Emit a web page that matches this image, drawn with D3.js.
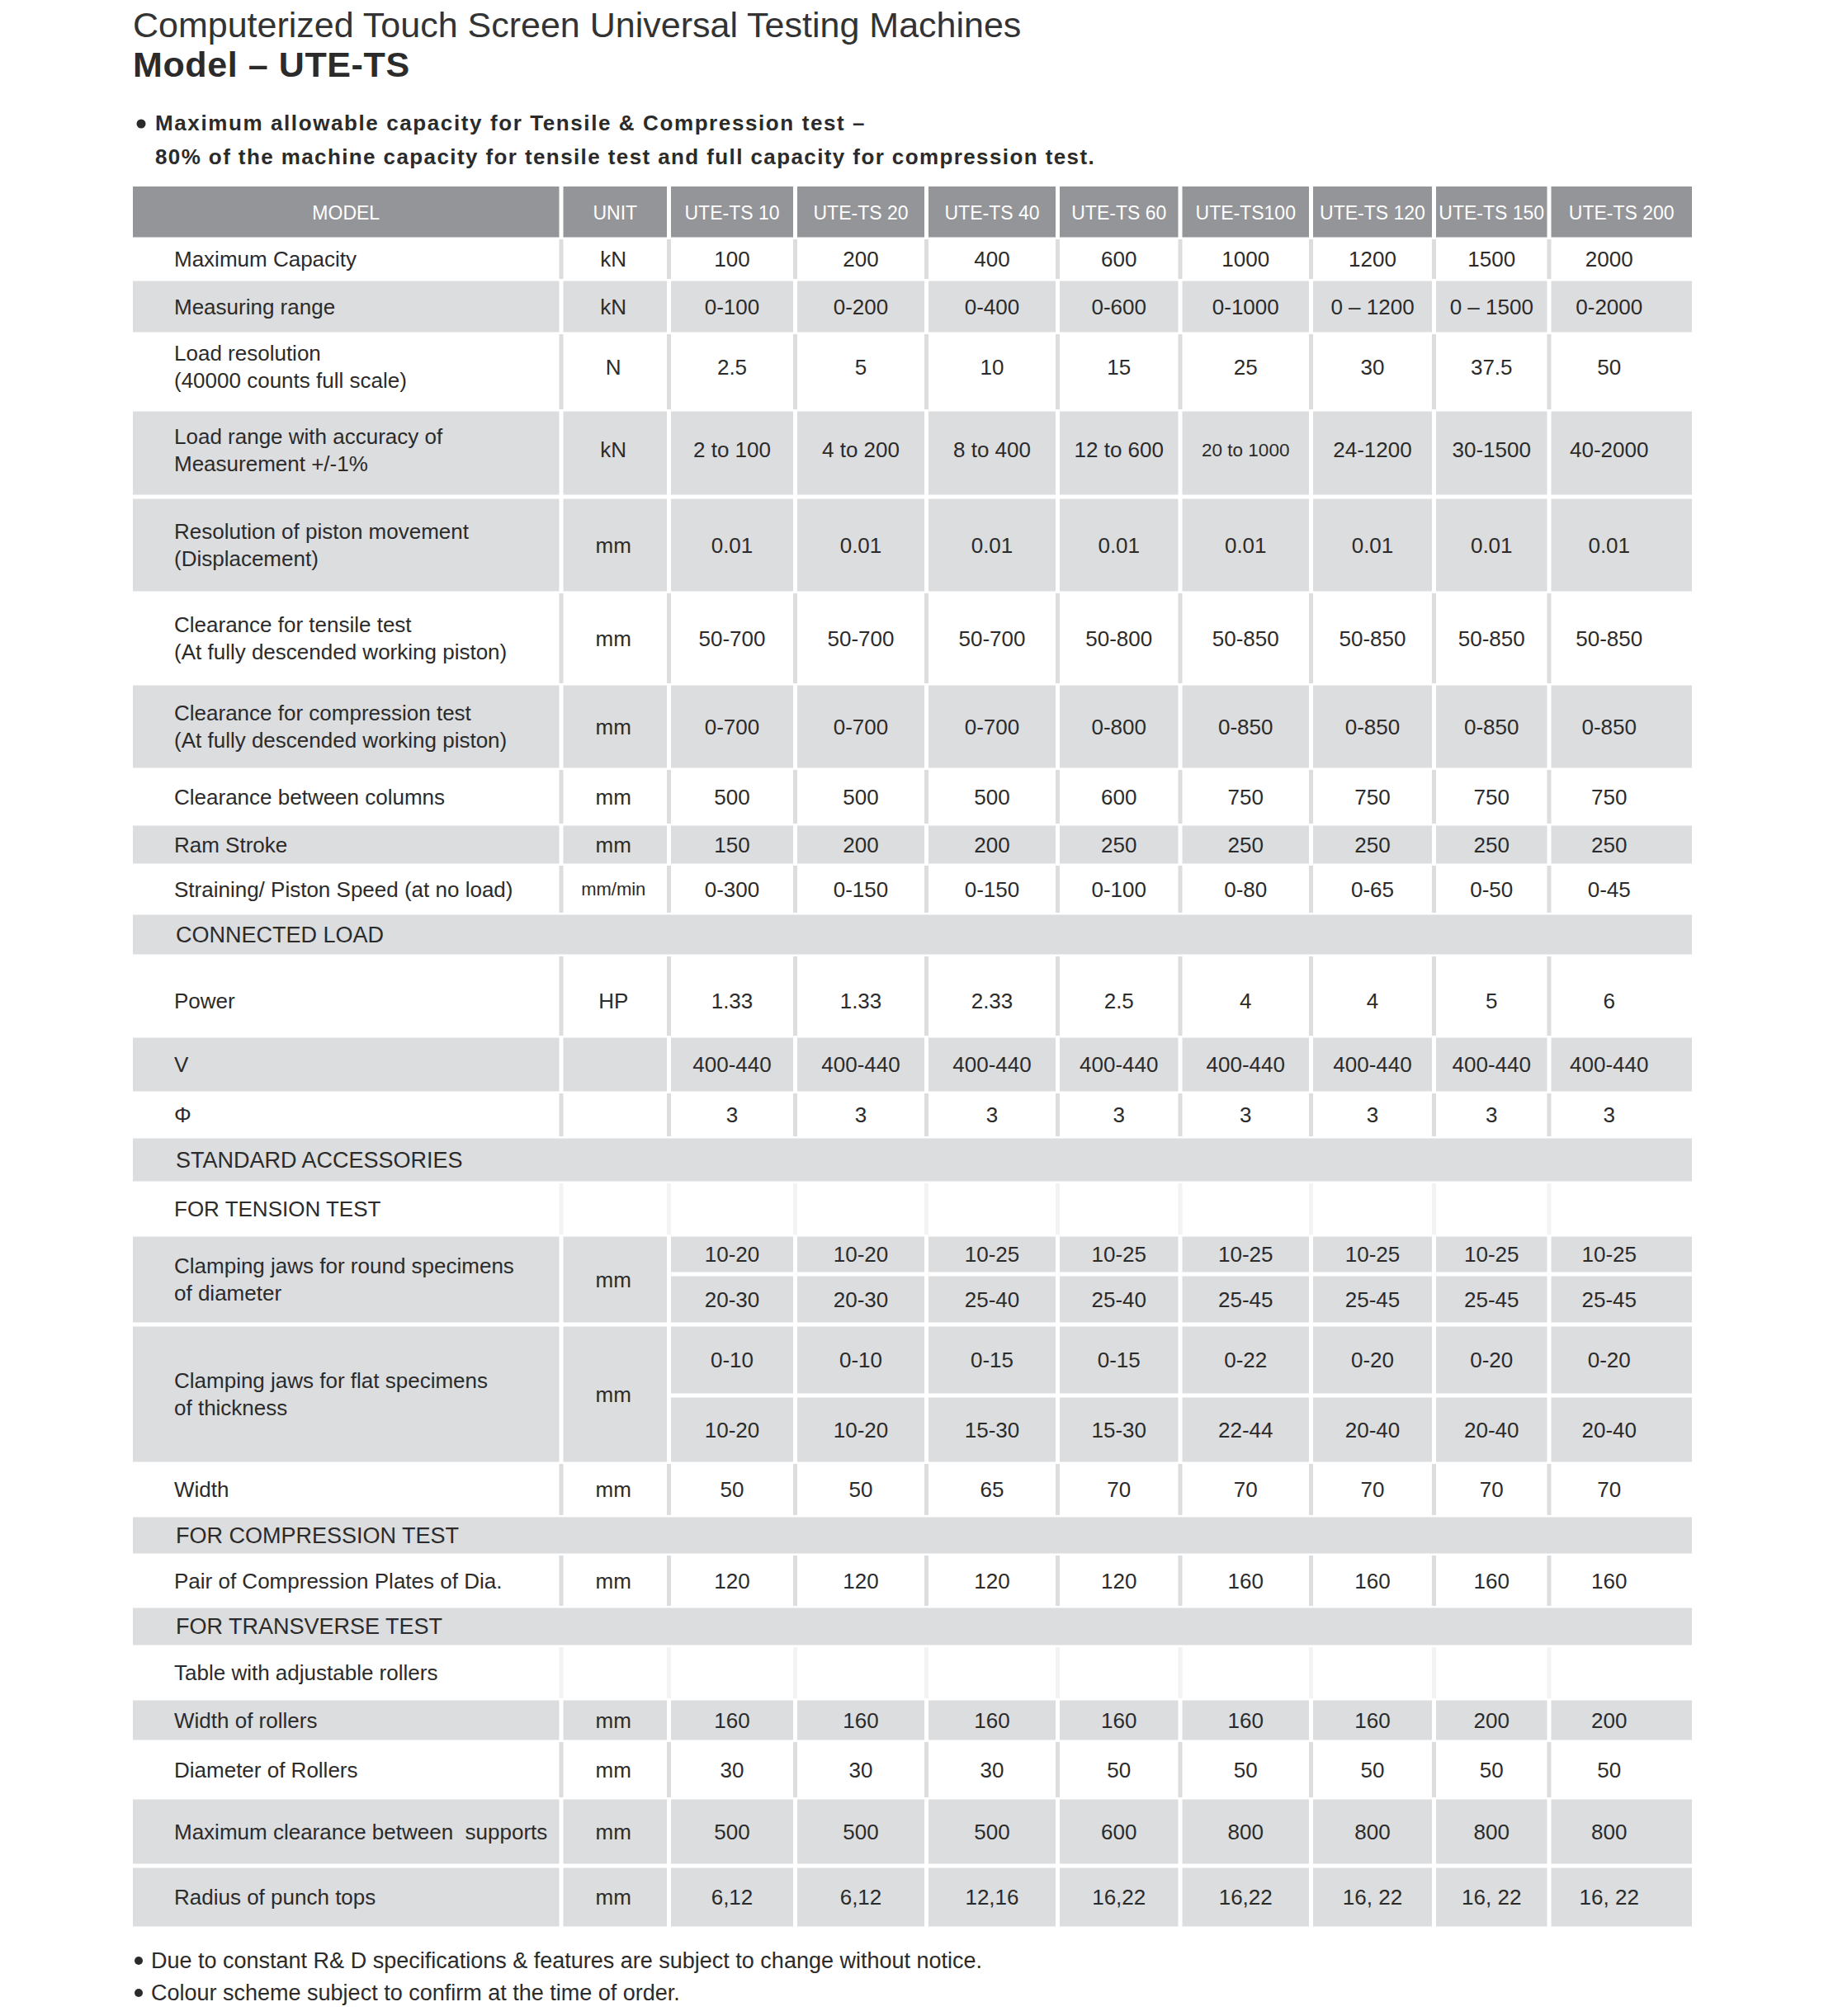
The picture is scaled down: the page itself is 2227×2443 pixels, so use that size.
<!DOCTYPE html>
<html>
<head>
<meta charset="utf-8">
<script src="https://cdn.jsdelivr.net/npm/d3@7"></script>
<style>
  body { margin: 0; background: #fff; }
  text { font-family: 'Liberation Sans', Arial, sans-serif; fill: #2b2b2b; white-space: pre; }
</style>
</head>
<body>
<div id="chart"></div>
<script>
/* globals d3 */

let title = 'Computerized Touch Screen Universal Testing Machines'
let subtitle = 'Model – UTE-TS'
let introLines = [
  'Maximum allowable capacity for Tensile & Compression test –',
  '80% of the machine capacity for tensile test and full capacity for compression test.'
]
let footNotes = [
  'Due to constant R& D specifications & features are subject to change without notice.',
  'Colour scheme subject to confirm at the time of order.'
]

let models = ['UTE-TS 10', 'UTE-TS 20', 'UTE-TS 40', 'UTE-TS 60', 'UTE-TS100', 'UTE-TS 120', 'UTE-TS 150', 'UTE-TS 200']

let maxCapacity = ['100', '200', '400', '600', '1000', '1200', '1500', '2000']
let measuringRange = ['0-100', '0-200', '0-400', '0-600', '0-1000', '0 – 1200', '0 – 1500', '0-2000']
let loadResolution = ['2.5', '5', '10', '15', '25', '30', '37.5', '50']
let loadRange = ['2 to 100', '4 to 200', '8 to 400', '12 to 600', '20 to 1000', '24-1200', '30-1500', '40-2000']
let pistonResolution = ['0.01', '0.01', '0.01', '0.01', '0.01', '0.01', '0.01', '0.01']
let tensileClearance = ['50-700', '50-700', '50-700', '50-800', '50-850', '50-850', '50-850', '50-850']
let compressionClearance = ['0-700', '0-700', '0-700', '0-800', '0-850', '0-850', '0-850', '0-850']
let columnClearance = ['500', '500', '500', '600', '750', '750', '750', '750']
let ramStroke = ['150', '200', '200', '250', '250', '250', '250', '250']
let pistonSpeed = ['0-300', '0-150', '0-150', '0-100', '0-80', '0-65', '0-50', '0-45']
let power = ['1.33', '1.33', '2.33', '2.5', '4', '4', '5', '6']
let voltage = ['400-440', '400-440', '400-440', '400-440', '400-440', '400-440', '400-440', '400-440']
let phase = ['3', '3', '3', '3', '3', '3', '3', '3']
let roundJawsA = ['10-20', '10-20', '10-25', '10-25', '10-25', '10-25', '10-25', '10-25']
let roundJawsB = ['20-30', '20-30', '25-40', '25-40', '25-45', '25-45', '25-45', '25-45']
let flatJawsA = ['0-10', '0-10', '0-15', '0-15', '0-22', '0-20', '0-20', '0-20']
let flatJawsB = ['10-20', '10-20', '15-30', '15-30', '22-44', '20-40', '20-40', '20-40']
let jawWidth = ['50', '50', '65', '70', '70', '70', '70', '70']
let plateDia = ['120', '120', '120', '120', '160', '160', '160', '160']
let rollerWidth = ['160', '160', '160', '160', '160', '160', '200', '200']
let rollerDia = ['30', '30', '30', '50', '50', '50', '50', '50']
let supportClearance = ['500', '500', '500', '600', '800', '800', '800', '800']
let punchRadius = ['6,12', '6,12', '12,16', '16,22', '16,22', '16, 22', '16, 22', '16, 22']

let rowLabels = [
  'Maximum Capacity',
  'Measuring range',
  'Load resolution\n(40000 counts full scale)',
  'Load range with accuracy of\nMeasurement +/-1%',
  'Resolution of piston movement\n(Displacement)',
  'Clearance for tensile test\n(At fully descended working piston)',
  'Clearance for compression test\n(At fully descended working piston)',
  'Clearance between columns',
  'Ram Stroke',
  'Straining/ Piston Speed (at no load)',
  'CONNECTED LOAD',
  'Power',
  'V',
  'Φ',
  'STANDARD ACCESSORIES',
  'FOR TENSION TEST',
  'Clamping jaws for round specimens\nof diameter',
  'Clamping jaws for flat specimens\nof thickness',
  'Width',
  'FOR COMPRESSION TEST',
  'Pair of Compression Plates of Dia.',
  'FOR TRANSVERSE TEST',
  'Table with adjustable rollers',
  'Width of rollers',
  'Diameter of Rollers',
  'Maximum clearance between  supports',
  'Radius of punch tops'
]
let rowUnits = ['kN', 'kN', 'N', 'kN', 'mm', 'mm', 'mm', 'mm', 'mm', 'mm/min', '', 'HP', '', '', '', '',
  'mm', 'mm', 'mm', '', 'mm', '', '', 'mm', 'mm', 'mm', 'mm']
let rowValues = [maxCapacity, measuringRange, loadResolution, loadRange, pistonResolution, tensileClearance,
  compressionClearance, columnClearance, ramStroke, pistonSpeed, null, power, voltage, phase, null, null,
  [roundJawsA, roundJawsB], [flatJawsA, flatJawsB], jawWidth, null, plateDia, null, null,
  rollerWidth, rollerDia, supportClearance, punchRadius]

// layout
const W = 2227
const H = 2443
const GAP = 5
const HEAD_FILL = '#949598'
const CELL_FILL = '#dcdddf'
const FAINT = '#f3f3f4'

let colKeys = ['MODEL', 'UNIT'].concat(models)
let colWidths = [521.5, 130.5, 153, 159, 159, 148.5, 158.5, 149, 139.5, 175.5]
let colEdges = [158.5].concat(Array.from(d3.cumsum(colWidths), (d) => 158.5 + d))
let x = d3.scaleOrdinal().domain(colKeys).range(colEdges.slice(0, -1))
let w = d3.scaleOrdinal().domain(colKeys).range(colWidths)

let rowHeights = [64, 48, 67, 91, 106, 117, 109, 105, 65, 51, 57, 53, 96, 70, 52, 57, 62, 109, 169, 62, 49, 61, 50, 62, 53, 67, 83, 76]
let rowIds = d3.range(rowHeights.length)
let y = d3.scaleOrdinal().domain(rowIds).range([226].concat(Array.from(d3.cumsum(rowHeights), (d) => 226 + d)))
let h = d3.scaleOrdinal().domain(rowIds).range(rowHeights)

let sectionRows = [11, 15, 20, 22]
let noteRows = [16, 23]
let grayRows = [2, 4, 5, 7, 9, 13, 17, 18, 24, 26, 27]
let splitAt = { 17: 48, 18: 86 }
let smallText = ['mm/min', '20 to 1000']
// text in a few rows sits a little off the row centre
let textNudge = { 3: -6, 4: -4, 12: 6 }

function main () {
  let svg = d3.select('#chart').append('svg')
      .attr('width', W)
      .attr('height', H)
  svg.append('rect').attr('width', W).attr('height', H).attr('fill', '#fff')

  drawTitle(svg)
  drawTable(svg)
  drawNotes(svg)
}

function drawTitle (svg) {
  svg.append('text')
      .attr('x', 161)
      .attr('y', 45)
      .style('font-size', '43px')
      .style('fill', '#333')
      .text(title)

  svg.append('text')
      .attr('x', 161)
      .attr('y', 93)
      .style('font-size', '43px')
      .style('font-weight', 'bold')
      .style('letter-spacing', '0.6px')
      .text(subtitle)

  svg.append('circle').attr('cx', 171).attr('cy', 150).attr('r', 5.5).attr('fill', '#2b2b2b')

  svg.append('g').selectAll('text')
    .data(introLines)
    .enter().append('text')
      .attr('x', 188)
      .attr('y', (d, i) => 158 + i * 41)
      .style('font-size', '26px')
      .style('font-weight', 'bold')
      .style('letter-spacing', (d, i) => i === 0 ? '1.6px' : '1.4px')
      .text((d) => d)
}

function drawNotes (svg) {
  let g = svg.append('g')
  g.selectAll('circle')
    .data(footNotes)
    .enter().append('circle')
      .attr('cx', 168)
      .attr('cy', (d, i) => 2376 + i * 39)
      .attr('r', 5)
      .attr('fill', '#2b2b2b')

  g.selectAll('text')
    .data(footNotes)
    .enter().append('text')
      .attr('x', 183)
      .attr('y', (d, i) => 2385 + i * 39)
      .style('font-size', '27px')
      .text((d) => d)
}

function cellRect (g, col, top, height) {
  g.append('rect')
      .attr('x', x(col) + GAP / 2)
      .attr('y', top + GAP / 2)
      .attr('width', w(col) - GAP)
      .attr('height', height - GAP)
      .attr('fill', CELL_FILL)
}

function separators (g, r, fill) {
  g.selectAll('rect.sep')
    .data(colEdges.slice(1, -1))
    .enter().append('rect')
      .attr('class', 'sep')
      .attr('x', (d) => d - GAP / 2)
      .attr('y', y(r.i))
      .attr('width', GAP)
      .attr('height', h(r.i))
      .attr('fill', fill)
}

function midY (r) {
  return y(r.i) + h(r.i) / 2 + (textNudge[r.i] || 0)
}

function drawLabel (g, r, size, left) {
  let lines = r.label.split('\n')
  let lineH = 33
  let cy = midY(r) - (lines.length - 1) * lineH / 2
  g.append('text')
      .style('font-size', size + 'px')
      .selectAll('tspan')
      .data(lines)
      .enter().append('tspan')
        .attr('x', left)
        .attr('y', (d, i) => cy + i * lineH)
        .attr('dy', '0.35em')
        .text((d) => d)
}

function valueX (col) {
  let nudge = col === models[models.length - 1] ? -15 : 0
  return x(col) + w(col) / 2 + nudge
}

function drawTable (svg) {
  let table = svg.append('g').attr('class', 'table')

  table.append('g').selectAll('rect')
    .data(colKeys)
    .enter().append('rect')
      .attr('x', (d) => x(d) + GAP / 2)
      .attr('y', y(0))
      .attr('width', (d) => w(d) - GAP)
      .attr('height', h(0) - GAP / 2)
      .attr('fill', HEAD_FILL)

  table.append('g').selectAll('text')
    .data(colKeys)
    .enter().append('text')
      .attr('x', (d) => x(d) + w(d) / 2)
      .attr('y', y(0) + h(0) / 2)
      .attr('dy', '0.35em')
      .attr('text-anchor', 'middle')
      .style('font-size', '23px')
      .style('fill', '#fff')
      .text((d) => d)

  let rows = rowLabels.map((label, k) => ({ i: k + 1, label: label, unit: rowUnits[k], values: rowValues[k] }))

  table.append('g').selectAll('g')
    .data(rows)
    .enter().append('g')
      .each(function (r) {
        let g = d3.select(this)
        let top = y(r.i)
        let height = h(r.i)

        if (sectionRows.includes(r.i)) {
          g.append('rect')
              .attr('x', colEdges[0] + GAP / 2)
              .attr('y', top + GAP / 2)
              .attr('width', colEdges[colEdges.length - 1] - colEdges[0] - GAP)
              .attr('height', height - GAP)
              .attr('fill', CELL_FILL)
          drawLabel(g, r, 27, 213)
          return
        }
        if (noteRows.includes(r.i)) {
          separators(g, r, FAINT)
          drawLabel(g, r, 26, 211)
          return
        }

        let split = Array.isArray(r.values[0])
        if (grayRows.includes(r.i)) {
          colKeys.forEach(function (col, c) {
            if (split && c > 1) {
              cellRect(g, col, top, splitAt[r.i])
              cellRect(g, col, top + splitAt[r.i], height - splitAt[r.i])
            } else {
              cellRect(g, col, top, height)
            }
          })
        } else {
          separators(g, r, CELL_FILL)
        }

        drawLabel(g, r, 26, 211)

        g.append('text')
            .attr('x', x('UNIT') + w('UNIT') / 2 - 2)
            .attr('y', midY(r))
            .attr('dy', '0.35em')
            .attr('text-anchor', 'middle')
            .style('font-size', smallText.includes(r.unit) ? '22px' : '26px')
            .text(r.unit)

        let series = split ? r.values : [r.values]
        series.forEach(function (vals, s) {
          let cy = midY(r)
          if (split) {
            cy = s === 0 ? top + splitAt[r.i] / 2 : top + splitAt[r.i] + (height - splitAt[r.i]) / 2
          }
          g.append('g').selectAll('text')
            .data(vals)
            .enter().append('text')
              .attr('x', (d, j) => valueX(models[j]))
              .attr('y', cy)
              .attr('dy', '0.35em')
              .attr('text-anchor', 'middle')
              .style('font-size', (d) => smallText.includes(d) ? '22.5px' : '26px')
              .text((d) => d)
        })
      })
}

main()
</script>
</body>
</html>
